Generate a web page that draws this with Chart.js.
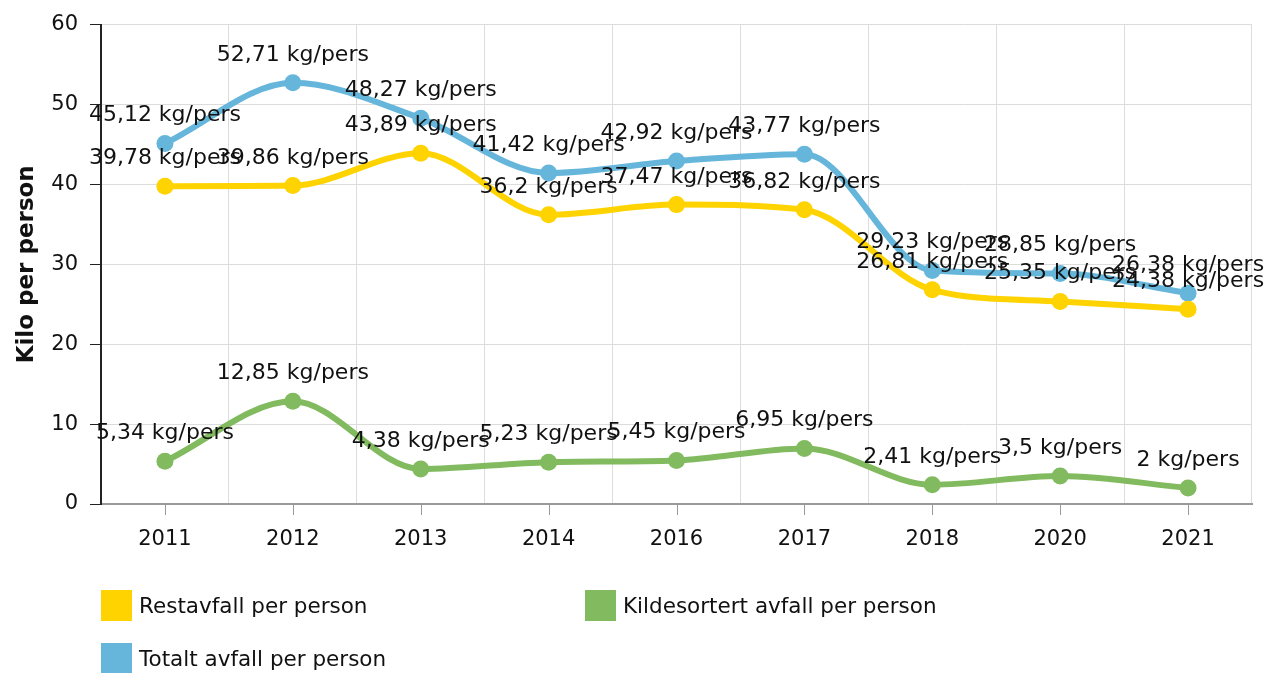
<!DOCTYPE html>
<html>
<head>
<meta charset="utf-8">
<script src="https://cdn.jsdelivr.net/npm/chart.js@4/dist/chart.umd.min.js"></script>
<style>
  html, body { margin: 0; padding: 0; background: #fff; }
  #wrap { position: relative; width: 1267px; height: 673px; }
  #c { position: absolute; left: 0; top: 0; }
  .lg { position: absolute; font-family: "DejaVu Sans", Verdana, sans-serif; font-size: 21.5px; color: #111; display: flex; align-items: center; white-space: nowrap; }
  .lg span.sw { display: inline-block; width: 31px; height: 31px; margin-right: 7px; }
</style>
</head>
<body>
<div id="wrap">
  <canvas id="c" width="1267" height="673"></canvas>
  <div id="legend"></div>
</div>
<script>
const categories = ["2011", "2012", "2013", "2014", "2016", "2017", "2018", "2020", "2021"];
const restavfall = [39.78, 39.86, 43.89, 36.2, 37.47, 36.82, 26.81, 25.35, 24.38];
const kildesortert = [5.34, 12.85, 4.38, 5.23, 5.45, 6.95, 2.41, 3.5, 2];
const totalt = [45.12, 52.71, 48.27, 41.42, 42.92, 43.77, 29.23, 28.85, 26.38];
const seriesNames = ["Restavfall per person", "Kildesortert avfall per person", "Totalt avfall per person"];
const seriesColors = ["#FFD300", "#82BB5F", "#66B6DB"];
const yTicks = [0, 10, 20, 30, 40, 50, 60];
const unit = " kg/pers";

const FONT = '"DejaVu Sans", Verdana, sans-serif';

function mkDataset(label, data, color) {
  return {
    label: label,
    data: data,
    borderColor: color,
    backgroundColor: color,
    borderWidth: 6,
    pointRadius: 8.5,
    pointHoverRadius: 8.5,
    pointBorderWidth: 0,
    pointBackgroundColor: color,
    cubicInterpolationMode: 'monotone',
    fill: false
  };
}

const dataLabels = {
  id: 'dataLabels',
  afterDatasetsDraw(chart) {
    const ctx = chart.ctx;
    ctx.save();
    ctx.font = '22px ' + FONT;
    ctx.fillStyle = '#111';
    ctx.textAlign = 'center';
    ctx.textBaseline = 'alphabetic';
    chart.data.datasets.forEach((ds, di) => {
      const meta = chart.getDatasetMeta(di);
      meta.data.forEach((pt, i) => {
        const txt = String(ds.data[i]).replace('.', ',') + unit;
        ctx.fillText(txt, pt.x, pt.y - 22);
      });
    });
    ctx.restore();
  }
};

const xTickMarks = {
  id: 'xTickMarks',
  afterDraw(chart) {
    const sc = chart.scales.x;
    const ctx = chart.ctx;
    ctx.save();
    ctx.strokeStyle = '#999';
    ctx.lineWidth = 1;
    sc.ticks.forEach((t, i) => {
      const x = Math.round(sc.getPixelForTick(i)) + 0.5;
      ctx.beginPath();
      ctx.moveTo(x, sc.top + 1);
      ctx.lineTo(x, sc.top + 11);
      ctx.stroke();
    });
    ctx.restore();
  }
};

const chart = new Chart(document.getElementById('c'), {
  type: 'line',
  data: {
    labels: categories,
    datasets: [
      mkDataset(seriesNames[0], restavfall, seriesColors[0]),
      mkDataset(seriesNames[1], kildesortert, seriesColors[1]),
      mkDataset(seriesNames[2], totalt, seriesColors[2])
    ]
  },
  options: {
    responsive: false,
    animation: false,
    events: [],
    layout: { padding: { left: 0, right: 15, top: 20, bottom: 103 } },
    plugins: { legend: { display: false }, tooltip: { enabled: false } },
    scales: {
      x: {
        offset: true,
        grid: { offset: true, color: '#dcdcdc', lineWidth: 1, drawTicks: false },
        border: { color: '#9a9a9a', width: 2 },
        ticks: { color: '#111', font: { family: FONT, size: 21 }, padding: 23, maxRotation: 0, autoSkip: false },
        afterFit(s) { s.height = 66; }
      },
      y: {
        min: 0, max: 60,
        afterBuildTicks(s) { s.ticks = yTicks.map(v => ({ value: v })); },
        grid: { color: '#dcdcdc', lineWidth: 1, tickLength: 11, tickColor: '#222' },
        border: { color: '#222', width: 2 },
        ticks: { color: '#111', font: { family: FONT, size: 21 }, padding: 12 },
        title: { display: true, text: 'Kilo per person', color: '#111', font: { family: FONT, size: 23, weight: 'bold' }, padding: { top: 13, bottom: 0 } },
        afterFit(s) { s.width = 101; }
      }
    }
  },
  plugins: [dataLabels, xTickMarks]
});

// HTML legend built from datasets
const legendPos = [[101, 590], [585, 590], [101, 643]];
const lg = document.getElementById('legend');
chart.data.datasets.forEach((ds, i) => {
  const d = document.createElement('div');
  d.className = 'lg';
  d.style.left = legendPos[i][0] + 'px';
  d.style.top = legendPos[i][1] + 'px';
  d.style.height = '31px';
  const sw = document.createElement('span');
  sw.className = 'sw';
  sw.style.background = ds.borderColor;
  d.appendChild(sw);
  d.appendChild(document.createTextNode(ds.label));
  lg.appendChild(d);
});
</script>
</body>
</html>
